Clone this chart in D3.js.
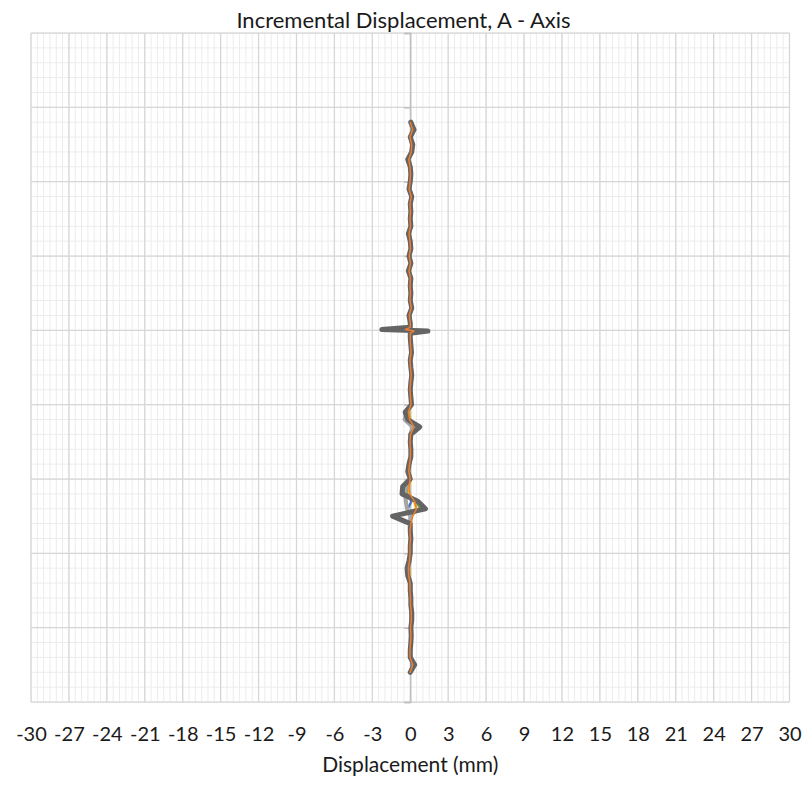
<!DOCTYPE html>
<html><head><meta charset="utf-8">
<script src="https://cdn.jsdelivr.net/npm/d3@7"></script>
<style>body{margin:0;background:#fff} svg{display:block}</style>
</head><body><svg id="c" width="807" height="787"></svg>
<script>
// depth along the hole (y axis, unlabelled)
const depth = [6.0,6.5,7.0,7.5,8.0,8.5,9.0,9.5,10.0,10.5,11.0,11.5,12.0,12.5,13.0,13.5,14.0,14.5,15.0,15.5,16.0,16.5,17.0,17.5,18.0,18.5,19.0,19.5,19.8,19.95,20.05,20.2,20.5,21.0,21.5,22.0,22.5,23.0,23.5,24.0,24.5,25.0,25.5,26.0,26.5,27.0,27.5,28.0,28.5,29.0,29.5,30.0,30.5,31.0,31.5,32.0,32.5,33.0,33.5,34.0,34.5,35.0,35.5,36.0,36.5,37.0,37.5,38.0,38.5,39.0,39.5,40.0,40.5,41.0,41.5,42.0,42.5,43.0];

const blueVals = [0.0,0.15,0.0,0.1,0.05,-0.1,0.0,0.0,0.0,-0.05,0.05,0.0,0.0,0.0,0.0,-0.05,0.0,0.0,-0.05,0.0,-0.05,0.0,0.0,0.0,0.0,0.05,-0.05,0.0,0.0,-0.3,0.2,0.0,0.0,0.0,0.05,0.0,0.0,0.05,0.0,0.0,0.0,0.05,-0.15,-0.1,0.2,0.0,0.0,0.0,0.0,-0.05,-0.1,0.0,-0.2,-0.25,0.1,-0.2,0.05,0.0,0.0,0.0,0.0,0.0,-0.05,-0.1,-0.1,0.0,0.0,0.0,0.0,0.05,0.05,0.0,0.05,0.0,0.0,0.0,0.1,0.0];
const yellowVals = [0.05,0.2,0.05,0.15,0.1,-0.05,0.05,0.05,0.05,0.0,0.1,0.05,0.05,0.05,0.05,0.0,0.05,0.05,0.0,0.05,0.0,0.05,0.05,0.05,0.05,0.1,0.0,0.05,0.05,-0.15,0.25,0.05,0.05,0.05,0.1,0.05,0.05,0.1,0.05,0.05,0.05,0.1,-0.1,0.0,0.3,0.05,0.05,0.05,0.05,0.0,-0.05,0.05,-0.1,-0.15,0.3,0.45,0.1,0.05,0.05,0.05,0.05,0.05,0.0,-0.05,-0.05,0.05,0.05,0.05,0.05,0.1,0.1,0.05,0.1,0.05,0.05,0.05,0.2,0.05];
const greenVals = [0.0,0.1,0.0,0.1,0.05,-0.1,0.0,0.05,0.0,-0.05,0.05,0.0,0.05,0.0,0.05,-0.05,0.0,0.05,-0.05,0.05,-0.05,0.05,0.0,0.05,0.0,0.05,-0.05,0.0,0.0,-0.25,0.3,0.0,0.0,0.05,0.05,0.0,0.05,0.05,0.05,0.0,0.05,0.05,-0.15,-0.05,0.35,0.05,0.0,0.05,0.05,-0.05,-0.1,0.0,-0.25,-0.3,0.4,0.8,0.0,0.0,0.0,0.05,0.0,0.0,-0.05,-0.1,-0.1,0.0,0.0,0.05,0.05,0.05,0.05,0.05,0.05,0.05,0.0,0.0,0.2,0.0];
const lightGrayVals = [0.0,0.2,0.0,0.15,0.1,-0.15,0.0,0.05,0.0,-0.05,0.1,0.0,0.05,0.0,0.05,-0.1,0.0,0.05,-0.05,0.05,-0.1,0.05,0.0,0.05,0.0,0.1,-0.05,0.0,0.0,-1.2,1.2,0.0,0.0,0.05,0.1,0.0,0.05,0.1,0.05,0.0,0.05,0.1,-0.3,-0.45,0.2,0.0,0.0,0.05,0.05,-0.1,-0.15,0.0,-0.35,-0.4,-0.35,-0.25,0.0,0.0,0.0,0.05,0.0,0.0,-0.05,-0.15,-0.15,0.0,0.0,0.05,0.05,0.1,0.1,0.05,0.05,0.05,0.0,0.0,0.25,0.0];
const darkGrayVals = [0.05,0.3,0.0,0.2,0.12,-0.2,0.0,0.05,0.0,-0.1,0.12,0.0,0.05,0.0,0.05,-0.15,0.0,0.05,-0.1,0.05,-0.15,0.05,0.0,0.05,0.0,0.12,-0.1,0.0,0.0,-2.25,1.4,0.0,0.0,0.05,0.1,0.0,0.05,0.12,0.05,0.0,0.05,0.1,-0.4,-0.2,0.75,0.05,0.0,0.05,0.05,-0.1,-0.2,0.0,-0.6,-0.65,0.6,1.2,-1.4,0.0,0.0,0.05,0.0,0.0,-0.1,-0.25,-0.2,0.0,0.0,0.05,0.05,0.12,0.12,0.05,0.08,0.05,0.0,0.0,0.35,0.0];
const orangeVals = [0.0,0.2,-0.03,0.12,0.08,-0.12,-0.02,0.02,-0.02,-0.08,0.08,-0.02,0.02,-0.02,0.02,-0.1,-0.02,0.02,-0.08,0.02,-0.1,0.02,-0.02,0.02,-0.02,0.08,-0.08,0.0,0.0,-0.4,0.3,0.0,0.0,0.02,0.06,-0.02,0.02,0.08,0.02,-0.02,0.02,0.06,-0.15,-0.05,0.3,0.02,-0.02,0.02,0.02,-0.06,-0.12,0.0,-0.1,-0.05,0.35,0.5,0.2,0.05,-0.02,0.02,-0.02,-0.02,-0.06,-0.15,-0.12,-0.02,-0.02,0.02,0.02,0.08,0.08,0.02,0.05,0.02,-0.02,-0.02,0.2,0.0];

const seriesNames = ["blue","yellow","green","lightGray","darkGray","orange"];
const seriesValues = [blueVals,yellowVals,greenVals,lightGrayVals,darkGrayVals,orangeVals];
const seriesColors = ["#4472C4","#FFC000","#70AD47","#A5A5A5","#646464","#ED7D31"];
const seriesWidths = [2.25,2.25,2.25,4,5,1.5];

const xTicks = [-30,-27,-24,-21,-18,-15,-12,-9,-6,-3,0,3,6,9,12,15,18,21,24,27,30];
const yMajor = [0,5,10,15,20,25,30,35,40,45];
const titleText = "Incremental Displacement, A - Axis";
const xTitleText = "Displacement (mm)";

const svg = d3.select("#c");
const L=31,R=789.5,T=33,B=702;
const x = d3.scaleLinear().domain([-30,30]).range([L,R]);
const y = d3.scaleLinear().domain([0,45]).range([T,B]);
const font = "Lato, 'Open Sans', sans-serif";

// minor grid
const minorX = d3.range(-30,30.001,0.5);
const minorY = d3.range(0,45.001,1);
const g = svg.append("g");
g.selectAll(".mx").data(minorX).join("line")
  .attr("x1",d=>x(d)).attr("x2",d=>x(d)).attr("y1",T).attr("y2",B)
  .attr("stroke","#ececec").attr("stroke-width",1);
g.selectAll(".my").data(minorY).join("line")
  .attr("y1",d=>y(d)).attr("y2",d=>y(d)).attr("x1",L).attr("x2",R)
  .attr("stroke","#ececec").attr("stroke-width",1);
// major grid
g.selectAll(".Mx").data(xTicks).join("line")
  .attr("x1",d=>x(d)).attr("x2",d=>x(d)).attr("y1",T).attr("y2",B)
  .attr("stroke","#d6d6d6").attr("stroke-width",1.25);
g.selectAll(".My").data(yMajor).join("line")
  .attr("y1",d=>y(d)).attr("y2",d=>y(d)).attr("x1",L).attr("x2",R)
  .attr("stroke","#d6d6d6").attr("stroke-width",1.25);

// y axis at x=0
const yAxis = svg.append("g").attr("transform",`translate(${x(0)},0)`)
  .call(d3.axisLeft(y).tickValues(yMajor).tickSize(6).tickFormat(""));
yAxis.select(".domain").attr("stroke","#bfbfbf").attr("stroke-width",1.5);
yAxis.selectAll(".tick line").attr("stroke","#bfbfbf").attr("stroke-width",1.5);

// x axis labels
const xAxis = svg.append("g").attr("transform",`translate(0,${B})`)
  .call(d3.axisBottom(x).tickValues(xTicks).tickSize(0).tickPadding(25).tickFormat(d=>String(d)));
xAxis.select(".domain").remove();
xAxis.selectAll("text").attr("font-family",font).attr("font-size",20).attr("fill","#1a1a1a");

// series
const line = d3.line().x(d=>x(d[0])).y(d=>y(d[1]));
seriesValues.forEach((vals,i)=>{
  const pts = vals.map((v,k)=>[v,depth[k]]);
  svg.append("path").datum(pts).attr("d",line)
    .attr("fill","none").attr("stroke",seriesColors[i]).attr("stroke-width",seriesWidths[i])
    .attr("stroke-linejoin","round").attr("stroke-linecap","round")
    .attr("class","series-"+seriesNames[i]);
});

// titles
svg.append("text").attr("x",403.5).attr("y",28).attr("text-anchor","middle")
  .attr("font-family",font).attr("font-size",22).attr("fill","#1a1a1a").text(titleText);
svg.append("text").attr("x",x(0)).attr("y",772).attr("text-anchor","middle")
  .attr("font-family",font).attr("font-size",21).attr("fill","#1a1a1a").text(xTitleText);
</script></body></html>
